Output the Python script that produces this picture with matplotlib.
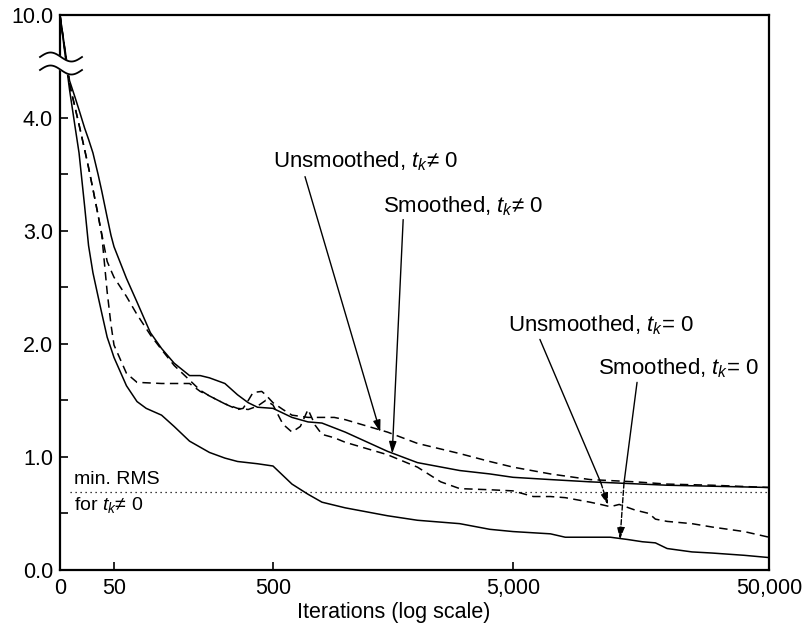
import numpy as np
import matplotlib
matplotlib.use('Agg')
import matplotlib.pyplot as plt

plt.rcParams['font.family'] = ['Liberation Sans', 'DejaVu Sans']
plt.rcParams['mathtext.fontset'] = 'custom'
plt.rcParams['mathtext.rm'] = 'Liberation Sans'
plt.rcParams['mathtext.it'] = 'Liberation Sans:italic'

# RMS error vs. iterations
smoothed_nz_x = [0, 1, 2, 3, 5, 7, 10, 15, 20, 30, 40, 50, 60, 70, 85, 100, 120, 150, 175, 200, 250, 300,
                 350, 400, 500, 600, 700, 800, 1000, 1500, 2000, 3000, 4000, 5000, 7000, 10000, 20000, 50000]
smoothed_nz_y = [10, 4.33, 4.18, 4.07, 3.91, 3.81, 3.69, 3.50, 3.35, 3.12, 2.96, 2.86, 2.58, 2.37, 2.10, 1.96, 1.83, 1.72, 1.72, 1.70, 1.65, 1.55,
                 1.48, 1.44, 1.43, 1.35, 1.31, 1.30, 1.22, 1.05, 0.95, 0.88, 0.85, 0.82, 0.80, 0.78, 0.75, 0.73]

unsmoothed_nz_x = [0, 1, 2, 3, 5, 7, 10, 15, 20, 30, 40, 50, 60, 70, 85, 100, 120, 150, 175, 200, 250, 300,
                   325, 350, 375, 425, 450, 500, 550, 600, 700, 800, 900, 1000, 1500, 2000, 3000, 4000, 5000, 7000,
                   10000, 15000, 20000, 30000, 50000]
unsmoothed_nz_y = [10, 4.30, 4.09, 3.94, 3.72, 3.56, 3.37, 3.14, 2.97, 2.73, 2.65, 2.59, 2.42, 2.26, 2.08, 1.95, 1.81, 1.68, 1.59, 1.54, 1.47, 1.42,
                   1.43, 1.50, 1.57, 1.58, 1.55, 1.48, 1.42, 1.37, 1.35, 1.35, 1.35, 1.33, 1.22, 1.12, 1.03, 0.96, 0.91, 0.85,
                   0.80, 0.78, 0.76, 0.75, 0.73]

unsmoothed_z_x = [0, 1, 2, 3, 5, 7, 10, 15, 20, 30, 40, 50, 60, 70, 100, 150, 175, 200, 250, 300, 350,
                  400, 450, 500, 550, 600, 650, 700, 750, 800, 900, 1000, 1500, 2000, 2500, 3000, 4000, 5000, 6000,
                  7000, 8000, 10000, 11000, 12000, 13000, 15000, 17000, 18000, 20000, 25000, 30000, 40000, 50000]
unsmoothed_z_y = [10, 4.30, 4.09, 3.94, 3.72, 3.56, 3.37, 3.14, 2.96, 2.46, 2.17, 1.99, 1.74, 1.66, 1.65, 1.65, 1.58, 1.54, 1.47, 1.43, 1.42,
                  1.45, 1.50, 1.46, 1.29, 1.22, 1.27, 1.42, 1.28, 1.20, 1.17, 1.13, 1.02, 0.91, 0.78, 0.72, 0.71, 0.70, 0.65,
                  0.65, 0.64, 0.60, 0.58, 0.56, 0.58, 0.53, 0.50, 0.45, 0.43, 0.41, 0.38, 0.34, 0.29]

smoothed_z_x = [0, 1, 2, 3, 5, 7, 10, 15, 20, 30, 40, 50, 60, 70, 80, 100, 120, 150, 200, 250, 300, 400, 500,
                600, 700, 800, 1000, 1500, 2000, 3000, 4000, 5000, 7000, 8000, 12000, 14000, 16000, 18000, 20000,
                25000, 30000, 40000, 50000]
smoothed_z_y = [10, 4.25, 3.92, 3.69, 3.22, 2.87, 2.63, 2.42, 2.27, 2.06, 1.96, 1.88, 1.63, 1.49, 1.43, 1.37, 1.27, 1.14, 1.04, 0.99, 0.96, 0.94, 0.92,
                0.76, 0.67, 0.60, 0.55, 0.48, 0.44, 0.41, 0.36, 0.34, 0.32, 0.29, 0.29, 0.27, 0.25, 0.24, 0.19,
                0.16, 0.15, 0.13, 0.11]

min_rms = 0.69

xtick_vals = [0, 50, 500, 5000, 50000]
xtick_labels = ['0', '50', '500', '5,000', '50,000']
ytick_vals = [0, 1, 2, 3, 4, 10]
ytick_labels = ['0.0', '1.0', '2.0', '3.0', '4.0', '10.0']

# the printed "log" axis is not evenly spaced, so map the ticks piecewise
log_ticks = np.log10(np.array(xtick_vals) + 1.0)
tick_pos = np.array([0, 54, 213, 453, 709], dtype=float)


def fwd_x(x):
    x = np.clip(np.asarray(x, dtype=float), 0, None)
    return np.interp(np.log10(x + 1.0), log_ticks, tick_pos)


def inv_x(p):
    return 10 ** np.interp(p, tick_pos, log_ticks) - 1.0


# broken y axis: 4.5 .. 10 squeezed into a small strip
y_in = [0, 4.5, 10]
y_out = [0, 4.5, 4.91]


def fwd_y(y):
    return np.interp(y, y_in, y_out)


def inv_y(p):
    return np.interp(p, y_out, y_in)


fig = plt.figure(figsize=(8.04, 6.3), dpi=100)
ax = fig.add_axes([60 / 804, 60 / 630, 709 / 804, 555 / 630])
ax.set_xscale('function', functions=(fwd_x, inv_x))
ax.set_yscale('function', functions=(fwd_y, inv_y))

dash = (0, (5.5, 3.5))
ax.plot(smoothed_nz_x, smoothed_nz_y, color='black', lw=1.1)
ax.plot(unsmoothed_nz_x, unsmoothed_nz_y, color='black', lw=1.1, ls=dash)
ax.plot(unsmoothed_z_x, unsmoothed_z_y, color='black', lw=1.1, ls=dash)
ax.plot(smoothed_z_x, smoothed_z_y, color='black', lw=1.1)

ax.axhline(min_rms, xmin=10 / 709, color='black', lw=0.9, ls=(0, (1, 3)))

ax.set_xlim(0, 50000)
ax.set_ylim(0, 10)

ax.set_xticks(xtick_vals)
ax.set_xticklabels(xtick_labels)
ax.xaxis.set_minor_locator(matplotlib.ticker.NullLocator())
ax.set_yticks(ytick_vals)
ax.set_yticklabels(ytick_labels)
ax.yaxis.set_minor_locator(matplotlib.ticker.FixedLocator([0.5, 1.5, 2.5, 3.5]))
ax.tick_params(axis='both', which='both', direction='in', length=6, width=1.2, labelsize=15.5)
ax.tick_params(axis='x', pad=6)
ax.tick_params(axis='y', pad=5)
for s in ax.spines.values():
    s.set_linewidth(1.6)

ax.set_xlabel('Iterations (log scale)', fontsize=15.5)
ax.xaxis.set_label_coords(0.47, -0.058)

# axis break mark
t = np.linspace(0, 1, 60)
bx = (-20 + 42 * t) / 709
up = (570 - (57 - 4.5 * np.sin(2 * np.pi * t))) / 555
lo = (570 - (70 - 4.5 * np.sin(2 * np.pi * t))) / 555
ax.fill_between(bx, lo, up, color='white', transform=ax.transAxes, clip_on=False, zorder=5)
ax.plot(bx, up, color='black', lw=1.3, transform=ax.transAxes, clip_on=False, zorder=6)
ax.plot(bx, lo, color='black', lw=1.3, transform=ax.transAxes, clip_on=False, zorder=6)

fs = 16
head = dict(arrowstyle='-|>,head_length=0.7,head_width=0.22', color='black', lw=1,
            shrinkA=0, shrinkB=0)
plain = dict(arrowstyle='-', color='black', lw=1, shrinkA=0, shrinkB=0)
head_dash = dict(head, ls='--')

ax.text(500, 3.56, 'Unsmoothed, $t_k$\u2260 0', fontsize=fs, ha='left', va='baseline')
ax.annotate('', xy=(1400, 1.22), xytext=(680, 3.48), arrowprops=head)

ax.text(1438, 3.16, 'Smoothed, $t_k$\u2260 0', fontsize=fs, ha='left', va='baseline')
ax.annotate('', xy=(1570, 1.03), xytext=(1744, 3.10), arrowprops=head)

ax.text(4750, 2.115, 'Unsmoothed, $t_k$= 0', fontsize=fs, ha='left', va='baseline')
ax.annotate('', xy=(11030, 0.77), xytext=(6370, 2.04), arrowprops=plain)
ax.annotate('', xy=(11750, 0.575), xytext=(11030, 0.77), arrowprops=head_dash)

ax.text(10740, 1.73, 'Smoothed, $t_k$= 0', fontsize=fs, ha='left', va='baseline')
ax.annotate('', xy=(13570, 0.77), xytext=(15260, 1.66), arrowprops=plain)
ax.annotate('', xy=(13090, 0.27), xytext=(13570, 0.77), arrowprops=head_dash)

ax.text(1.8, 0.76, 'min. RMS', fontsize=14, ha='left', va='baseline')
ax.text(1.8, 0.53, 'for $t_k$\u2260 0', fontsize=14, ha='left', va='baseline')

fig.savefig('out.png', dpi=100)
